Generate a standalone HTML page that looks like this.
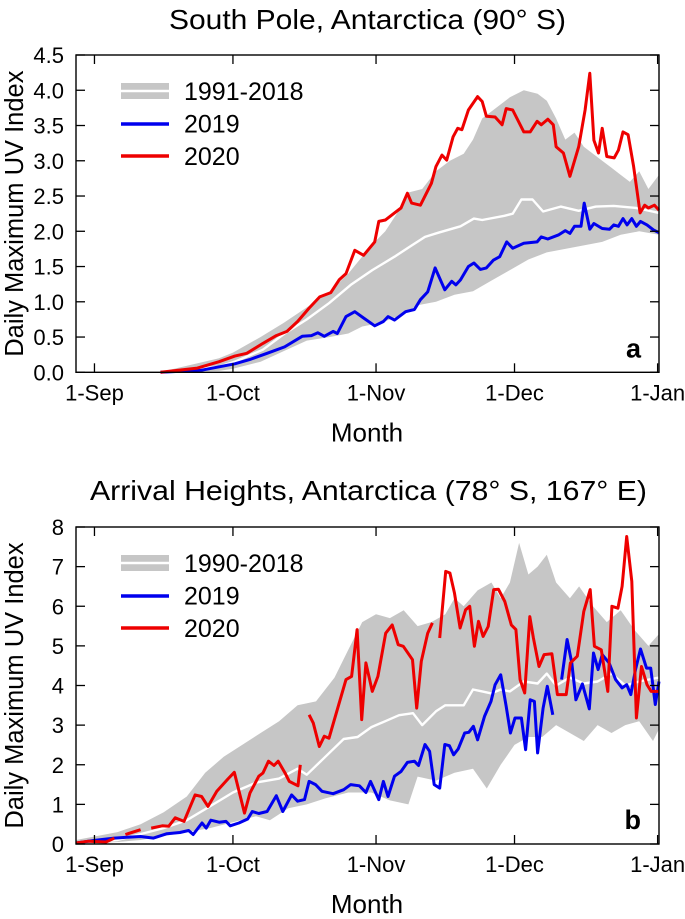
<!DOCTYPE html>
<html><head><meta charset="utf-8"><style>
body{margin:0;background:#fff;}
svg text{font-family:"Liberation Sans",Arial,sans-serif;fill:#000;}
</style></head><body>
<svg id="chart" width="685" height="914" viewBox="0 0 685 914" xmlns="http://www.w3.org/2000/svg"></svg>
<script>
// ---------- Panel a: South Pole ----------
const aRedDays=[14.3,22.3,27,30.4,33,36.5,39.4,41.7,44,46.5,48.8,51.2,53,54.5,56.4,58.3,60.7,61.6,63,65,66.4,67.8,68.7,70.6,73,74,75.3,76.3,77.7,78.7,79.6,81,83,84,84.9,86.8,88.3,89.2,90.6,93,94.4,95.9,96.8,98.2,99.4,100,101.6,103,104.9,106.3,107.3,108.2,109.2,110,111,112.6,113.5,114.5,115.6,116.8,118.2,119.2,120,121.3,122.3];
const aRedVals=[0,0.06,0.15,0.23,0.27,0.41,0.52,0.58,0.72,0.91,1.07,1.13,1.31,1.40,1.73,1.66,1.85,2.14,2.16,2.26,2.33,2.54,2.40,2.37,2.68,2.92,3.08,3.01,3.34,3.46,3.44,3.72,3.91,3.84,3.63,3.62,3.51,3.74,3.72,3.41,3.41,3.56,3.51,3.59,3.51,3.20,3.11,2.78,3.20,3.72,4.24,3.29,3.11,3.46,3.06,3.04,3.15,3.41,3.37,2.92,2.26,2.37,2.33,2.37,2.30];
const aBlueDays=[14.3,23.2,30.4,33.6,37.4,41.2,45,47,48.4,49.8,51.7,52.6,54.5,56.4,58.3,60.7,62.6,63.6,65,67.4,69.3,70.6,72.2,73.8,75.9,77.4,78.3,79.3,81,82.2,83.6,84.9,86.4,87.8,89.3,90.6,93,95.9,96.8,98.2,100.6,102,103,104,105.4,106.1,107.3,108.2,110,111.6,112.5,113.5,114.5,115.4,116.4,117.4,118.3,119.7,121.1,122.3];
const aBlueVals=[0,0.03,0.12,0.18,0.27,0.36,0.51,0.52,0.56,0.51,0.58,0.55,0.79,0.86,0.77,0.66,0.72,0.79,0.74,0.86,0.89,1.03,1.14,1.48,1.17,1.29,1.24,1.31,1.50,1.55,1.46,1.48,1.59,1.64,1.85,1.76,1.83,1.85,1.92,1.89,1.95,2.01,1.97,2.07,2.07,2.40,2.03,2.11,2.04,2.03,2.09,2.07,2.18,2.09,2.18,2.07,2.14,2.09,2.02,1.98];
const aMeanDays=[14.3,27,30.4,36.5,41.2,46,50.8,55.5,60.2,65,68.3,71.6,74.5,79.3,82.2,84,88.8,90.6,92.5,94.9,97.2,101,104.9,108.6,112.5,117.4,122.3];
const aMeanVals=[0,0.08,0.15,0.32,0.55,0.75,0.98,1.24,1.45,1.64,1.78,1.92,1.98,2.07,2.18,2.16,2.22,2.25,2.45,2.45,2.28,2.35,2.29,2.35,2.36,2.33,2.26];
const aUpDays=[14,27,30,36,41,46,51,55,60,63,66,68,71,74,77,80,82,84,87,90,93,96,98,100,102,104,106,108,110,112,114,116,118,120,122.3];
const aUpVals=[0,0.2,0.28,0.5,0.7,0.92,1.15,1.4,1.8,2.0,2.3,2.55,2.6,2.85,3.0,3.1,3.3,3.6,3.75,3.9,4.0,3.95,3.85,3.6,3.3,3.4,3.2,3.1,3.0,2.9,2.8,2.7,2.85,2.6,2.8];
const aLoDays=[14,27,30,36,41,46,51,55,58,62,66,70,74,78,82,86,90,94,98,102,106,110,114,118,122.3];
const aLoVals=[0,0.02,0.05,0.15,0.3,0.45,0.5,0.55,0.65,0.7,0.8,0.95,1.0,1.1,1.15,1.3,1.45,1.6,1.7,1.75,1.8,1.85,1.95,2.0,1.95];
const aYTicks=["0.0","0.5","1.0","1.5","2.0","2.5","3.0","3.5","4.0","4.5"];

// ---------- Panel b: Arrival Heights ----------
const bRedDays=[-3.9,-1.3,2.5,4.3,null,6.7,10,null,12.3,14.7,16.1,17.5,19.4,21.8,23.2,24.6,26.5,28.9,30.3,32.5,33.7,35.6,36.5,37.7,38.9,39.8,41.3,42.2,44.1,44.6,null,46.5,47.4,48.7,49.8,50.8,54.5,55.7,56.9,57.9,58.8,60.2,61.4,63.1,64.5,65.8,66.9,68.9,69.8,70.8,72.2,73.2,null,74.8,76.1,77,78,79.2,80.4,81.3,82.3,83.2,84.2,85.3,86.5,87.5,88.9,90.3,91.3,92.2,93.2,94.3,95.1,96.3,97.4,99.1,100.3,102.2,103.1,104.6,106,107.4,108.3,109.8,111.2,112.1,113.4,114.3,115.3,116.4,117.4,118.5,119.7,120.6,122.3];
const bRedVals=[0.03,0.07,0.05,0.15,null,0.24,0.36,null,0.40,0.46,0.45,0.66,0.57,1.24,1.20,0.95,1.33,1.64,1.81,0.78,1.29,1.71,1.79,2.09,1.98,2.09,1.79,1.58,1.47,2.00,null,3.26,3.05,2.46,2.72,2.67,4.15,4.23,5.41,3.14,4.57,3.85,4.23,5.32,5.53,5.03,4.99,4.65,3.43,4.61,5.32,5.58,null,5.20,6.88,6.84,6.33,5.45,5.91,6.00,4.99,5.62,5.24,5.49,6.42,6.43,6.12,5.53,5.41,4.15,3.81,5.74,5.20,4.48,4.78,4.80,3.77,3.77,4.57,4.74,5.87,6.42,4.99,4.90,3.85,6.00,5.95,6.50,7.76,6.63,3.18,4.48,4.02,3.85,3.85];
const bBlueDays=[-3.7,0,4.3,7.1,10,12.8,15.7,18.5,20.4,21.4,23.3,24.2,25.2,27,28.5,29.4,31.3,33.2,34.2,35.6,37.4,39.4,40.8,42.7,44,45.5,46.5,47.9,49.3,51.7,54,55.5,57.4,58.8,59.8,61.6,62.6,63.6,65,66.4,67.8,69.3,70.2,71.6,72.6,73.6,74.8,75.9,76.9,77.8,78.8,80.2,81.1,82.1,83,84.5,85.9,86.8,88,89.2,90.1,91.1,92.5,93.4,94.4,95.3,96,97.2,98.1,99.3,null,101.2,102.4,103.4,104.3,105.7,107.2,108.1,109.1,110,111.5,112.9,114.3,115.3,116.2,117.2,118.3,119.6,120.5,121.5,122.3];
const bBlueVals=[0.03,0.09,0.15,0.17,0.19,0.15,0.26,0.29,0.34,0.24,0.53,0.40,0.60,0.55,0.57,0.46,0.53,0.63,0.82,0.77,0.82,1.22,0.82,1.24,1.08,1.12,1.58,1.50,1.33,1.27,1.37,1.50,1.47,1.30,1.58,1.12,1.58,1.20,1.71,1.83,2.06,2.09,1.98,2.51,2.34,1.50,1.41,2.51,2.48,2.25,2.40,2.80,2.82,2.97,2.63,3.22,3.60,4.02,4.27,3.47,2.80,3.18,3.18,2.38,3.64,3.60,2.30,3.43,3.98,3.26,null,4.15,5.16,4.57,3.64,4.04,3.41,4.82,4.40,4.78,4.57,4.15,3.94,4.02,3.77,4.40,4.92,4.44,4.44,3.52,4.10];
const bMeanDays=[-4,5,15,20,25,30,35,40,44,46,50,54,57,60,63,66,69,71,74,76,78,80,82,84,86,88,90,93,96,98,100,103,106,109,112,115,118,122.3];
const bMeanVals=[0.03,0.1,0.4,0.6,0.95,1.3,1.55,1.65,1.9,1.75,2.2,2.65,2.7,2.95,3.1,3.25,3.3,3.0,3.35,3.5,3.5,3.5,3.9,3.85,3.8,3.9,3.85,4.1,4.05,4.3,4.0,4.2,4.05,4.1,4.3,4.0,4.1,4.2];
const bUpDays=[-4,5,10,15,20,24,28,32,36,40,44,48,52,55,58,61,64,67,70,73,76,78,80,83,86,88,90,92,94,96,98,100,103,105,108,111,114,117,120,122.3];
const bUpVals=[0.1,0.3,0.5,0.8,1.2,1.8,2.2,2.5,2.8,3.1,3.5,3.6,4.2,4.9,5.6,5.8,5.7,5.9,5.5,5.6,5.8,6.2,6.0,6.4,6.6,6.2,6.6,7.6,6.8,7.0,7.3,6.6,6.2,6.5,6.0,5.6,5.9,5.4,5.0,5.3];
const bLoDays=[-4,5,10,15,20,25,30,35,38,42,46,50,55,60,64,68,70,74,78,82,85,88,91,94,97,100,103,106,109,112,115,118,121,122.3];
const bLoVals=[0,0.05,0.1,0.2,0.3,0.4,0.55,0.7,0.6,0.9,1.0,1.15,1.3,1.3,1.1,1.0,1.7,1.6,1.8,1.9,1.4,2.0,2.5,2.7,2.7,3.0,2.8,2.6,3.0,2.8,3.0,3.1,2.6,2.9];
const bYTicks=["0","1","2","3","4","5","6","7","8"];

const monthLabels=["1-Sep","1-Oct","1-Nov","1-Dec","1-Jan"];
const monthDays=[0,30,61,91,122];

const NS="http://www.w3.org/2000/svg";
const svg=document.getElementById('chart');
function mk(tag,attrs,parent){const e=document.createElementNS(NS,tag);for(const k in attrs)e.setAttribute(k,attrs[k]);(parent||svg).appendChild(e);return e;}
const X0=76,X1=659,D0=-4,D1=122.3;
function xs(d){return X0+(d-D0)/(D1-D0)*(X1-X0);}

function panel(cfg){
  const g=mk('g',{});
  
  
  const ys=v=>cfg.yb-(v/cfg.ymax)*(cfg.yb-cfg.yt);
  const t=mk('text',{x:cfg.titleX,y:cfg.titleY,'font-size':28,textLength:cfg.titleW,lengthAdjust:'spacingAndGlyphs'},g);
  t.textContent=cfg.title;
  
  
  let d='';
  cfg.upD.forEach((x,i)=>{d+=(i?'L':'M')+xs(x).toFixed(1)+','+ys(cfg.upV[i]).toFixed(1);});
  for(let i=cfg.loD.length-1;i>=0;i--){d+='L'+xs(cfg.loD[i]).toFixed(1)+','+ys(cfg.loV[i]).toFixed(1);}
  const band=mk('path',{d:d+'Z',fill:'#c6c6c6',stroke:'none'},g);
  
  
  function line(days,vals,color,w,name){
    let p='',pen=false;
    days.forEach((x,i)=>{if(x===null||vals[i]===null){pen=false;return;}p+=(pen?'L':'M')+xs(x).toFixed(1)+','+ys(vals[i]).toFixed(1);pen=true;});
    const l=mk('path',{d:p,fill:'none',stroke:color,'stroke-width':w,'stroke-linejoin':'round'},g);
    
    
  }
  line(cfg.meanD,cfg.meanV,'#ffffff',2.4,'climatology-mean-line');
  line(cfg.blueD,cfg.blueV,'#0000ee',3,'series-2019-line');
  line(cfg.redD,cfg.redV,'#ee0000',3,'series-2020-line');
  const fr=mk('rect',{x:X0,y:cfg.yt,width:X1-X0,height:cfg.yb-cfg.yt,fill:'none',stroke:'#000','stroke-width':1.4},g);
  
  
  cfg.yticks.forEach((lab,i)=>{
    const v=i*cfg.ymax/(cfg.yticks.length-1),y=ys(v);
    mk('line',{x1:X0,x2:X0+9,y1:y,y2:y,stroke:'#000','stroke-width':1.3},g);
    mk('line',{x1:X1,x2:X1-9,y1:y,y2:y,stroke:'#000','stroke-width':1.3},g);
    const tt=mk('text',{x:X0-12,y:y+8,'font-size':22,'text-anchor':'end'},g);
    tt.textContent=lab;
    
    
  });
  monthLabels.forEach((lab,i)=>{
    const x=xs(monthDays[i]);
    mk('line',{x1:x,x2:x,y1:cfg.yb,y2:cfg.yb-9,stroke:'#000','stroke-width':1.3},g);
    mk('line',{x1:x,x2:x,y1:cfg.yt,y2:cfg.yt+9,stroke:'#000','stroke-width':1.3},g);
    const tt=mk('text',{x:x,y:cfg.yb+28,'font-size':22,'text-anchor':'middle'},g);
    tt.textContent=lab;
    
    
  });
  const xl=mk('text',{x:367,y:cfg.yb+69,'font-size':26,'text-anchor':'middle'},g);
  xl.textContent='Month';
  
  
  const yc=(cfg.yt+cfg.yb)/2;
  const yl=mk('text',{x:0,y:0,'font-size':25.5,'text-anchor':'middle',transform:`translate(23,${yc}) rotate(-90)`},g);
  yl.textContent='Daily Maximum UV Index';
  
  
  const pl=mk('text',{x:641,y:cfg.yb-15,'font-size':27,'font-weight':'bold','text-anchor':'end'},g);
  pl.textContent=cfg.letter;
  
  
  const lg=mk('g',{},g);
  
  
  const ly=cfg.yt+36;
  mk('rect',{x:121,y:ly-8,width:48,height:16,fill:'#c6c6c6'},lg);
  mk('line',{x1:121,x2:169,y1:ly,y2:ly,stroke:'#fff','stroke-width':2.5},lg);
  mk('line',{x1:121,x2:169,y1:ly+33,y2:ly+33,stroke:'#0000ee','stroke-width':3.5},lg);
  mk('line',{x1:121,x2:169,y1:ly+65,y2:ly+65,stroke:'#ee0000','stroke-width':3.5},lg);
  [cfg.legendRange,'2019','2020'].forEach((s,i)=>{
    const tt=mk('text',{x:184,y:ly+9+i*32.5,'font-size':25},lg);
    tt.textContent=s;
    
    
  });
}
panel({name:'panel-a-south-pole',title:'South Pole, Antarctica (90° S)',titleX:169,titleW:397,titleY:29,yt:55,yb:372.3,ymax:4.5,yticks:aYTicks,letter:'a',legendRange:'1991-2018',
  upD:aUpDays,upV:aUpVals,loD:aLoDays,loV:aLoVals,meanD:aMeanDays,meanV:aMeanVals,blueD:aBlueDays,blueV:aBlueVals,redD:aRedDays,redV:aRedVals});
panel({name:'panel-b-arrival-heights',title:'Arrival Heights, Antarctica (78° S, 167° E)',titleX:90,titleW:557,titleY:500,yt:527,yb:844,ymax:8,yticks:bYTicks,letter:'b',legendRange:'1990-2018',
  upD:bUpDays,upV:bUpVals,loD:bLoDays,loV:bLoVals,meanD:bMeanDays,meanV:bMeanVals,blueD:bBlueDays,blueV:bBlueVals,redD:bRedDays,redV:bRedVals});
</script>
</body></html>
